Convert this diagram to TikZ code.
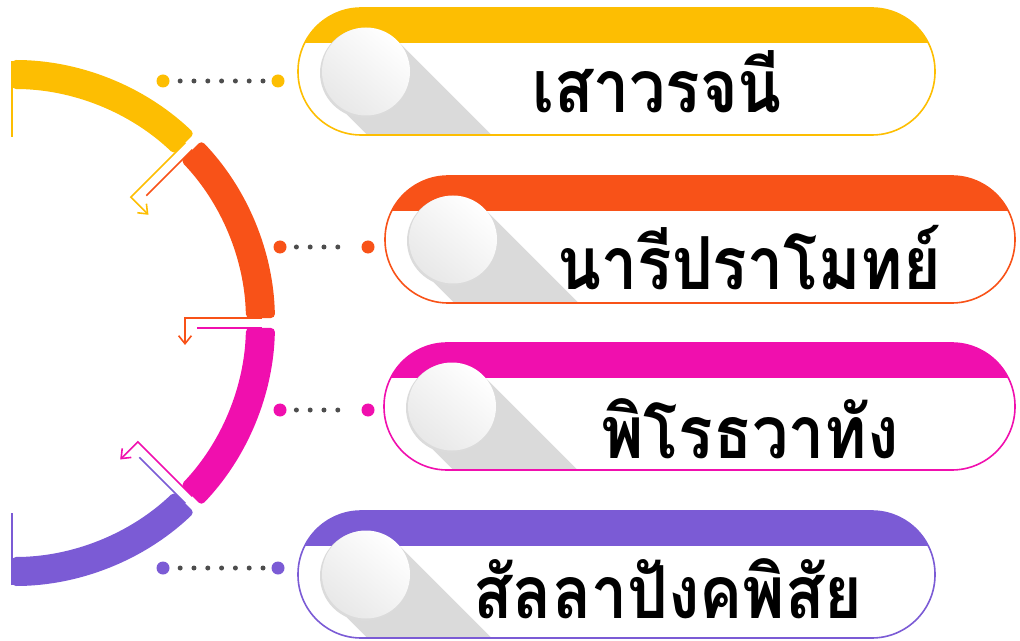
\documentclass[tikz,border=0pt]{standalone}
\usepackage{fontspec}
\newfontfamily\thaifont[Script=Thai]{Loma}
\usetikzlibrary{arrows.meta}
\definecolor{cyel}{HTML}{FDBE02}
\definecolor{cora}{HTML}{F85218}
\definecolor{cpink}{HTML}{F00FAE}
\definecolor{cpurp}{HTML}{7B5BD5}
\definecolor{cdot}{HTML}{4D4D4D}
\definecolor{cshade}{HTML}{DADADA}
\newcommand{\thaitxt}[1]{\scalebox{0.88}[1]{#1}}
\begin{document}
\begin{tikzpicture}[x=0.025cm,y=0.025cm,
  bigdot/.style={circle,inner sep=0pt,minimum size=0.325cm},
  dotrow/.style={draw=cdot,line width=0.125cm,line cap=round,dash pattern=on 0pt off 0.345cm},
  seg/.style={rounded corners=0.1cm},
  lnk/.style={line width=0.04cm},
  tip/.style={-{Straight Barb[length=0.2cm,width=0.32cm]}},
  lbl/.style={font=\thaifont\bfseries\fontsize{52}{52}\selectfont,anchor=base,inner sep=0pt,text depth=0pt}]
  \useasboundingbox (0,0) rectangle (1020,640);
  \begin{scope}[shift={(12,317)}]
    \begin{scope}[rotate=45]
      \draw[lnk,cyel,tip] (250,5) -- (173,5) -- (173,-20);
      \draw[lnk,cora] (250,-5) -- (185,-5);
    \end{scope}
    \begin{scope}[rotate=0]
      \draw[lnk,cora,tip] (250,5) -- (173,5) -- (173,-22);
      \draw[lnk,cpink] (250,-5) -- (185,-5);
    \end{scope}
    \begin{scope}[rotate=-45]
      \draw[lnk,cpink,tip] (250,5) -- (173,5) -- (173,-20);
      \draw[lnk,cpurp] (250,-5) -- (185,-5);
    \end{scope}
    \draw[lnk,cyel] (90:262) -- (0,186);
    \draw[lnk,cpurp] (-90:262) -- (0,-190);
    \fill[cyel,seg] (90:263) arc[start angle=90,end angle=46.09,radius=263] -- (46.22:234) arc[start angle=46.22,end angle=90,radius=234] -- cycle;
    \fill[cora,seg] (43.91:263) arc[start angle=43.91,end angle=1.09,radius=263] -- (1.22:234) arc[start angle=1.22,end angle=43.78,radius=234] -- cycle;
    \fill[cpink,seg] (-1.09:263) arc[start angle=-1.09,end angle=-43.91,radius=263] -- (-43.78:234) arc[start angle=-43.78,end angle=-1.22,radius=234] -- cycle;
    \fill[cpurp,seg] (-46.09:263) arc[start angle=-46.09,end angle=-90,radius=263] -- (-90:234) arc[start angle=-90,end angle=-46.22,radius=234] -- cycle;
  \end{scope}
  \foreach \n/\l/\r/\cy/\c/\tx/\ty/\txt in {1/298/935/568.5/cyel/657/527/{เสาวรจนี},
      2/385/1015/400.5/cora/749/350/{นารีปราโมทย์},
      3/384/1015/233.5/cpink/750/182/{พิโรธวาทัง},
      4/298/935/65.5/cpurp/668/22/{สัลลาปังคพิสัย}}{
    \begin{scope}
      \clip[rounded corners=1.58cm] (\l,\cy-63.5) rectangle (\r,\cy+63.5);
      \fill[cshade] (\l+68+31.1,\cy+31.1) -- ++(160,-160) -- ++(-62.2,-62.2) -- (\l+68-31.1,\cy-31.1) -- cycle;
      \fill[\c] (\l,\cy+28.5) rectangle (\r,\cy+63.5);
    \end{scope}
    \draw[\c,lnk,rounded corners=1.58cm] (\l,\cy-63.5) rectangle (\r,\cy+63.5);
    \fill[black!14] (\l+67,\cy-1.5) circle (45);
    \shade[top color=white,bottom color=black!9,shading angle=-40] (\l+68,\cy) circle (44);
    \node[lbl] (t\n) at (\tx,\ty) {\thaitxt{\txt}};
  }
  \node[bigdot,fill=cyel] (a1) at (163,559) {};
  \node[bigdot,fill=cyel] (b1) at (278,559) {};
  \node[bigdot,fill=cora] (a2) at (280,393) {};
  \node[bigdot,fill=cora] (b2) at (368,393) {};
  \node[bigdot,fill=cpink] (a3) at (280,230) {};
  \node[bigdot,fill=cpink] (b3) at (368,230) {};
  \node[bigdot,fill=cpurp] (a4) at (163,72) {};
  \node[bigdot,fill=cpurp] (b4) at (278,72) {};
  \draw[dotrow,shorten <=0.26cm,shorten >=0.2cm] (a1) -- (b1);
  \draw[dotrow,shorten <=0.24cm,shorten >=0.25cm] (a2) -- (b2);
  \draw[dotrow,shorten <=0.24cm,shorten >=0.25cm] (a3) -- (b3);
  \draw[dotrow,shorten <=0.26cm,shorten >=0.2cm] (a4) -- (b4);
\end{tikzpicture}
\end{document}
